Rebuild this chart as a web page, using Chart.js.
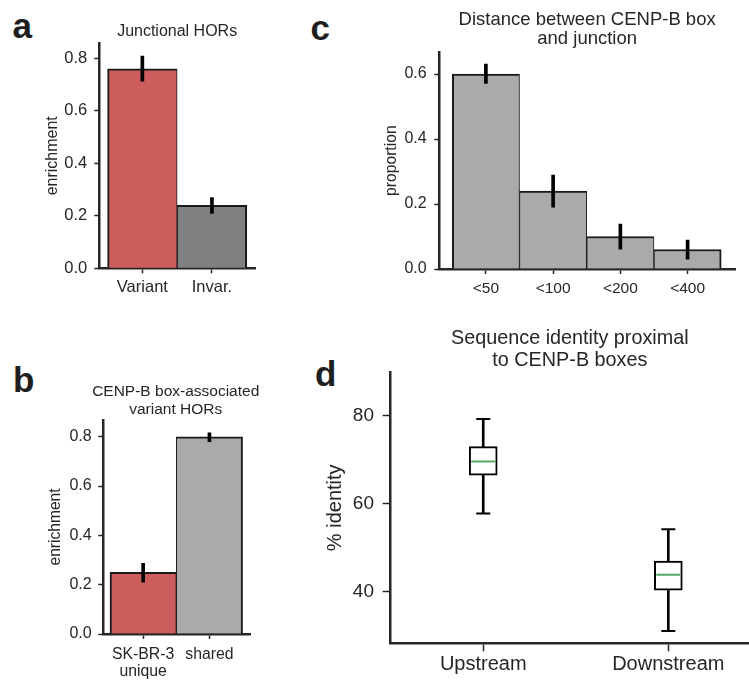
<!DOCTYPE html>
<html lang="en">
<head>
  <meta charset="UTF-8" />
  <title>CENP-B box panels</title>
  <script src="https://cdn.jsdelivr.net/npm/chart.js@4.4.0/dist/chart.umd.min.js"></script>
  <style>
    *{box-sizing:border-box;margin:0;padding:0}
    body{width:749px;height:680px;overflow:hidden;position:relative;background:#fff;font-family:"Liberation Sans",Arial,Helvetica,sans-serif}
    canvas{position:absolute}
    .lab{position:absolute;font-weight:700;font-size:35px;line-height:35px;color:#1e1e1e}
  </style>
</head>
<body>
<div class="lab" style="left:12.5px;top:7.5px">a</div>
<div class="lab" style="left:13px;top:362px">b</div>
<div class="lab" style="left:310.5px;top:9.5px">c</div>
<div class="lab" style="left:315px;top:356px">d</div>

<canvas id="pa" width="290" height="310" style="left:0;top:0"></canvas>
<canvas id="pb" width="290" height="360" style="left:0;top:320px"></canvas>
<canvas id="pc" width="449" height="310" style="left:300px;top:0"></canvas>
<canvas id="pd" width="449" height="360" style="left:300px;top:320px"></canvas>

<script>
/* data */
const aCats = ['Variant', 'Invar.'];
const aVals = [0.76, 0.24];
const aErrLo = [0.713, 0.209];
const aErrHi = [0.808, 0.269];
const aTicks = [0, 0.2, 0.4, 0.6, 0.8];

const bCats = [['SK-BR-3', 'unique'], 'shared'];
const bVals = [0.25, 0.80];
const bErrLo = [0.21, 0.78];
const bErrHi = [0.287, 0.816];
const bTicks = [0, 0.2, 0.4, 0.6, 0.8];

const cCats = ['<50', '<100', '<200', '<400'];
const cVals = [0.60, 0.24, 0.10, 0.06];
const cErrLo = [0.571, 0.19, 0.061, 0.03];
const cErrHi = [0.631, 0.289, 0.138, 0.089];
const cTicks = [0, 0.2, 0.4, 0.6];

const dCats = ['Upstream', 'Downstream'];
const dLow = [57.8, 31.1];
const dQ1 = [66.5, 40.4];
const dMed = [69.6, 43.9];
const dQ3 = [73.0, 47.0];
const dHigh = [79.3, 54.2];
const dTicks = [40, 60, 80];

const INK = '#262626', EDGE = '#1a1a1a', RED = '#cd5c5c';

/* shared axis builder; fixed sizes so the plot areas land where the figure has them */
function axis(o) {
  return {
    type: 'linear', min: o.min, max: o.max, offset: false,
    afterBuildTicks: s => { s.ticks = o.ticks.map(v => ({value: v})); },
    afterFit: s => {
      if (s.isHorizontal()) s.height = o.fit; else s.width = o.fit;
      s.paddingLeft = s.paddingRight = s.paddingTop = s.paddingBottom = 0;
    },
    border: {display: true, color: INK, width: 2.5},
    grid: {drawOnChartArea: false, drawTicks: true, tickLength: o.tl, tickColor: INK, tickWidth: 1.5, offset: false},
    ticks: {color: INK, font: {size: o.size, lineHeight: o.lh || 1.2}, padding: o.pad, maxRotation: 0, autoSkip: false, callback: o.fmt},
    title: o.title ? {display: true, text: o.title, color: INK, font: {size: o.titleSize}, padding: {top: o.titlePad, bottom: 0}} : {display: false}
  };
}

// empty right-hand axis, only reserves room so a wide title can span past the plot
const spacer = w => ({position: 'right', display: true, afterFit: s => { s.width = w; },
  border: {display: false}, grid: {display: false}, ticks: {display: false}});

function titleOpt(text, size, lh, top, bottom, full) {
  return {display: true, text, fullSize: !!full, color: INK, font: {size, lineHeight: lh, weight: 'normal'}, padding: {top, bottom}};
}

function barChart(id, o) {
  const idx = o.cats.map((_, i) => i), last = o.cats.length - 1;
  const scales = {x: o.x, y: o.y};
  if (o.spacer) scales.y2 = spacer(o.spacer);
  return new Chart(id, {
    type: 'bar',
    data: {datasets: [
      {data: idx.map(i => ({x: i, y: [o.lo[i], o.hi[i]]})), backgroundColor: '#000', borderWidth: 0, barThickness: 3, grouped: false, order: 0},
      {data: idx.map(i => ({x: i, y: o.vals[i]})), backgroundColor: o.colors, borderColor: EDGE, grouped: false, order: 1,
       categoryPercentage: 1, barPercentage: 1,
       borderWidth: c => ({top: 2, bottom: 0, left: c.dataIndex === 0 ? 2 : 1, right: c.dataIndex === last ? 2 : 1})}
    ]},
    options: {
      responsive: false, animation: false,
      layout: {padding: o.padding, autoPadding: false},
      plugins: {legend: {display: false}, tooltip: {enabled: false}, title: o.titleOpt},
      scales
    }
  });
}

/* a */
barChart('pa', {
  cats: aCats, vals: aVals, lo: aErrLo, hi: aErrHi, colors: [RED, '#808080'],
  padding: {left: 0, right: 35, top: 0, bottom: 0},
  titleOpt: titleOpt('Junctional HORs', 16, 1.2, 22, 2.1),
  x: axis({min: -0.619, max: 1.619, ticks: [0, 1], fit: 41.7, tl: 5, pad: 4, size: 16.5, fmt: (v, i) => aCats[i]}),
  y: axis({min: 0, max: 0.857, ticks: aTicks, fit: 99.3, tl: 5, pad: 7, size: 16.5, fmt: v => v.toFixed(1),
           title: 'enrichment', titleSize: 16, titlePad: 43.4})
});

/* b */
barChart('pb', {
  cats: bCats, vals: bVals, lo: bErrLo, hi: bErrHi, colors: [RED, '#aaaaaa'],
  padding: {left: 61.4, right: 0, top: 0, bottom: 0}, spacer: 40,
  titleOpt: titleOpt(['CENP-B box-associated', 'variant HORs'], 15.5, 1.14, 63.2, 1.4, true),
  x: axis({min: -0.601, max: 1.612, ticks: [0, 1], fit: 46, tl: 5, pad: 7, size: 15.8, lh: 1.1, fmt: (v, i) => bCats[i]}),
  y: axis({min: 0, max: 0.868, ticks: bTicks, fit: 41.9, tl: 5, pad: 6.6, size: 16, fmt: v => v.toFixed(1),
           title: 'enrichment', titleSize: 15.6, titlePad: -14.8})
});

/* c */
barChart('pc', {
  cats: cCats, vals: cVals, lo: cErrLo, hi: cErrHi, colors: '#aaaaaa',
  padding: {left: 0, right: 14, top: 0, bottom: 0},
  titleOpt: titleOpt(['Distance between CENP-B box', 'and junction'], 18.5, 1.03, 10.5, 3.7),
  x: axis({min: -0.693, max: 3.705, ticks: [0, 1, 2, 3], fit: 41, tl: 5, pad: 5, size: 15.5, fmt: (v, i) => cCats[i]}),
  y: axis({min: 0, max: 0.667, ticks: cTicks, fit: 139.3, tl: 5, pad: 7.6, size: 16, fmt: v => v.toFixed(1),
           title: 'proportion', titleSize: 15.7, titlePad: 82.3})
});

/* d: box plot built from floating bars and line markers */
const dIdx = dCats.map((_, i) => i);
new Chart('pd', {
  type: 'bar',
  data: {datasets: [
    {type: 'scatter', data: dIdx.map(i => ({x: i, y: dMed[i]})), pointStyle: 'line', radius: 12, borderColor: '#55a868', borderWidth: 2, order: 0},
    {type: 'scatter', data: dIdx.flatMap(i => [{x: i, y: dLow[i]}, {x: i, y: dHigh[i]}]), pointStyle: 'line', radius: 7, borderColor: '#000', borderWidth: 2, order: 1},
    {data: dIdx.map(i => ({x: i, y: [dQ1[i], dQ3[i]]})), backgroundColor: '#fff', borderColor: '#000', borderWidth: 2, borderSkipped: false, barThickness: 28, grouped: false, order: 2},
    {data: dIdx.map(i => ({x: i, y: [dLow[i], dHigh[i]]})), backgroundColor: '#000', borderWidth: 0, barThickness: 2, grouped: false, order: 3}
  ]},
  options: {
    responsive: false, animation: false,
    layout: {padding: {left: 0, right: 0, top: 0, bottom: 0}, autoPadding: false},
    plugins: {legend: {display: false}, tooltip: {enabled: false},
      title: titleOpt(['Sequence identity proximal', 'to CENP-B boxes'], 19.8, 1.1, 7.4, 1.3)},
    scales: {
      x: axis({min: -0.5, max: 1.436, ticks: [0, 1], fit: 36.7, tl: 8, pad: 1, size: 20, fmt: (v, i) => dCats[i]}),
      y: axis({min: 28.3, max: 89.9, ticks: dTicks, fit: 90.7, tl: 8, pad: 8.7, size: 19, fmt: v => String(v),
               title: '% identity', titleSize: 20, titlePad: 23.5})
    }
  }
});
</script>
</body>
</html>
